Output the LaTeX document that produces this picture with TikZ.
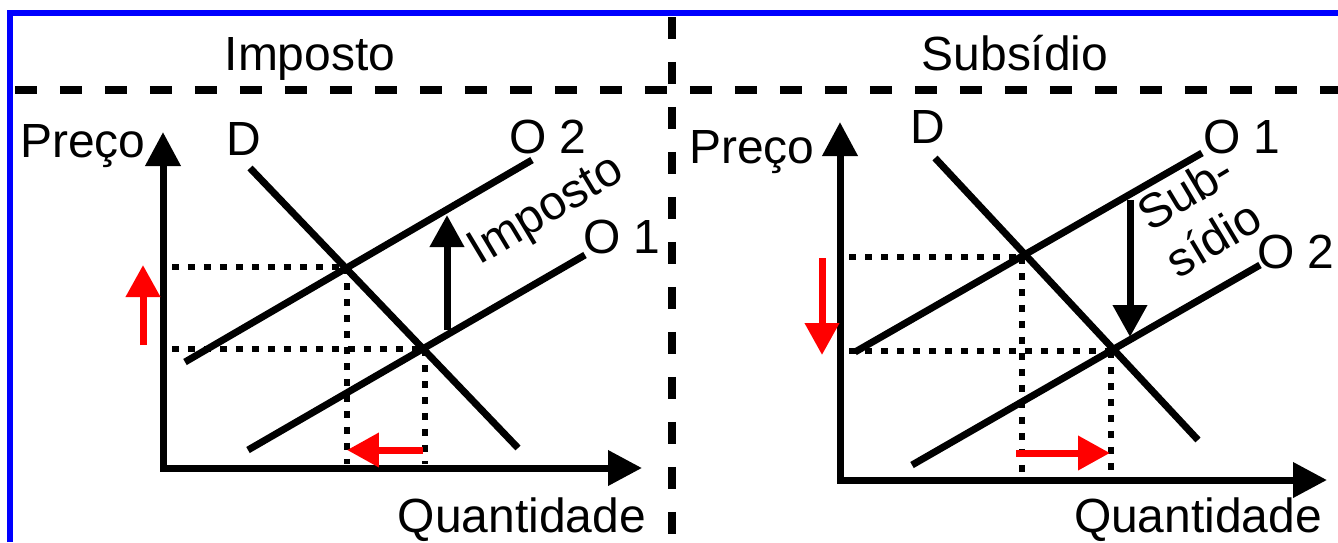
\documentclass[tikz,border=0pt]{standalone}
\usepackage{fontspec}
\setmainfont{Liberation Sans}
\usetikzlibrary{arrows.meta}
\definecolor{frameblue}{HTML}{0000FF}
\definecolor{tipred}{HTML}{FF0000}

\begin{document}
\begin{tikzpicture}[
  % one unit = one pixel of the original, y runs downwards
  x=0.02cm, y=-0.02cm,
  lbl/.style     = {font=\fontsize{27.3}{31}\selectfont, inner sep=0pt, anchor=base},
  curve/.style   = {line width=0.14cm},
  axis/.style    = {line width=0.14cm, line join=miter,
                    {Triangle[length=0.68cm, width=0.68cm]}-{Triangle[length=0.68cm, width=0.68cm]}},
  guide/.style   = {line width=0.13cm, dash pattern=on 0.14cm off 0.18cm},
  move/.style    = {line width=0.14cm, -{Triangle[length=0.64cm, width=0.66cm]}},
  redmove/.style = {move, color=tipred},
  divider/.style = {line width=0.16cm, dash pattern=on 0.44cm off 0.46cm},
]
\useasboundingbox (0,0) rectangle (1338,542);

% ------------------------------------------------------------------ frame --
\draw[draw=frameblue, line width=0.12cm] (10,542) -- (10,13) -- (1338,13);
\draw[divider] (15,90) -- (1338,90);
\draw[divider] (672,17) -- (672,542);
\node[lbl] (titleL) at (310,70) {Imposto};
\node[lbl] (titleR) at (1015,70) {Subsídio};

% ------------------------------------------------------------------ tax --
\coordinate (yL) at (163,132);
\coordinate (oL) at (163,468);
\coordinate (xL) at (642,468);
\draw[axis] (yL) -- (oL) -- (xL);
\node[lbl] (prL) at (83,157) {Preço};
\node[lbl] (qL) at (522,532) {Quantidade};

\coordinate (dLa) at (250,168);  \coordinate (dLb) at (518,448);
\coordinate (s2La) at (185,362); \coordinate (s2Lb) at (532,160);
\coordinate (s1La) at (248,450); \coordinate (s1Lb) at (585,255);
\draw[curve] (dLa) -- (dLb);
\draw[curve] (s2La) -- (s2Lb);
\draw[curve] (s1La) -- (s1Lb);
\node[lbl] (dL) at (244,155) {D};
\node[lbl] (o2L) at (548,153) {O 2};
\node[lbl] (o1L) at (622,253) {O 1};

\coordinate (eL2) at (347,267);
\coordinate (eL1) at (425,349);
\draw[guide] (172,267) -- (eL2);
\draw[guide] (172,349) -- (eL1);
\draw[guide] (eL2) -- (eL2 |- 0,464);
\draw[guide] (eL1) -- (eL1 |- 0,464);

\coordinate (taxA) at (447,330); \coordinate (taxB) at (447,215);
\draw[move] (taxA) -- (taxB);
\node[lbl, rotate=31] (taxT) at (553,222) {Imposto};

\coordinate (pUpA) at (143,345); \coordinate (pUpB) at (143,265);
\draw[redmove] (pUpA) -- (pUpB);
\coordinate (qDnA) at (423,450); \coordinate (qDnB) at (347,450);
\draw[redmove] (qDnA) -- (qDnB);

% ------------------------------------------------------------- subsidy --
\coordinate (yR) at (840,122);
\coordinate (oR) at (840,480);
\coordinate (xR) at (1327,480);
\draw[axis] (yR) -- (oR) -- (xR);
\node[lbl] (prR) at (752,163) {Preço};
\node[lbl] (qR) at (1198,532) {Quantidade};

\coordinate (dRa) at (935,158);  \coordinate (dRb) at (1198,440);
\coordinate (s1Ra) at (855,352); \coordinate (s1Rb) at (1202,153);
\coordinate (s2Ra) at (912,465); \coordinate (s2Rb) at (1260,265);
\draw[curve] (dRa) -- (dRb);
\draw[curve] (s1Ra) -- (s1Rb);
\draw[curve] (s2Ra) -- (s2Rb);
\node[lbl] (dR) at (928,143) {D};
\node[lbl] (o1R) at (1242,153) {O 1};
\node[lbl] (o2R) at (1296,268) {O 2};

\coordinate (eR1) at (1022,257);
\coordinate (eR2) at (1111,351);
\draw[guide] (849,257) -- (eR1);
\draw[guide] (849,351) -- (eR2);
\draw[guide] (eR1) -- (eR1 |- 0,476);
\draw[guide] (eR2) -- (eR2 |- 0,476);

\coordinate (subA) at (1130,200); \coordinate (subB) at (1130,337);
\draw[move] (subA) -- (subB);
\node[lbl, anchor=center, align=center, rotate=31] (subT) at (1199,215) {Sub-\\sídio};

\coordinate (pDnA) at (822,258); \coordinate (pDnB) at (822,355);
\draw[redmove] (pDnA) -- (pDnB);
\coordinate (qUpA) at (1016,453); \coordinate (qUpB) at (1110,453);
\draw[redmove] (qUpA) -- (qUpB);

\end{tikzpicture}
\end{document}
